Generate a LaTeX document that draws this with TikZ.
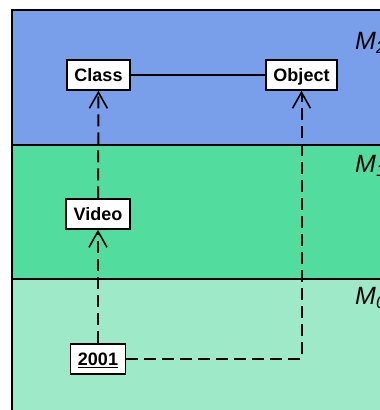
\documentclass[tikz,border=0pt]{standalone}
\usepackage{fontspec}
\setmainfont{Liberation Sans}
\usetikzlibrary{arrows.meta}
\definecolor{mtwo}{RGB}{122,159,234}
\definecolor{mone}{RGB}{82,221,159}
\definecolor{mzero}{RGB}{158,234,200}

\begin{document}
\begin{tikzpicture}
  [x=1pt, y=-1pt,
   elem/.style={draw, fill=white, line width=1.4pt, inner xsep=7.5pt, inner ysep=0pt,
                text height=13pt, text depth=0pt, minimum height=30pt,
                font=\bfseries\fontsize{18}{18}\selectfont},
   layer/.style={draw, line width=1.4pt},
   lvl/.style={anchor=west, inner sep=0pt, font=\itshape\fontsize{25}{25}\selectfont},
   inst/.style={line width=2pt, dash pattern=on 12pt off 6pt,
                -{Straight Barb[length=16pt, width=18pt, line width=1.6pt]}}]
  \useasboundingbox (0,0) rectangle (380,410);
  \clip (0,0) rectangle (380,410);
  % the three levels
  \filldraw[layer, fill=mtwo] (12,10) rectangle (430,145);
  \filldraw[layer, fill=mone] (12,145) rectangle (430,279);
  \filldraw[layer, fill=mzero] (12,279) rectangle (430,430);
  \node[lvl] (m2) at (355,43) {M\textsubscript{2}};
  \node[lvl] (m1) at (355,166) {M\textsubscript{1}};
  \node[lvl] (m0) at (355,298) {M\textsubscript{0}};
  % elements
  \node[elem] (cls) at (98.5,75) {Class};
  \node[elem] (obj) at (301.5,75) {Object};
  \node[elem] (vid) at (98,214) {Video};
  \node[elem] (yr) at (98,359) {\underline{2001}};
  % links
  \draw[line width=1.4pt] (cls) -- (obj);
  \draw[inst] (vid) -- (cls);
  \draw[inst] (yr) -- (vid);
  \draw[inst] (yr.east) -| (obj);
\end{tikzpicture}
\end{document}
